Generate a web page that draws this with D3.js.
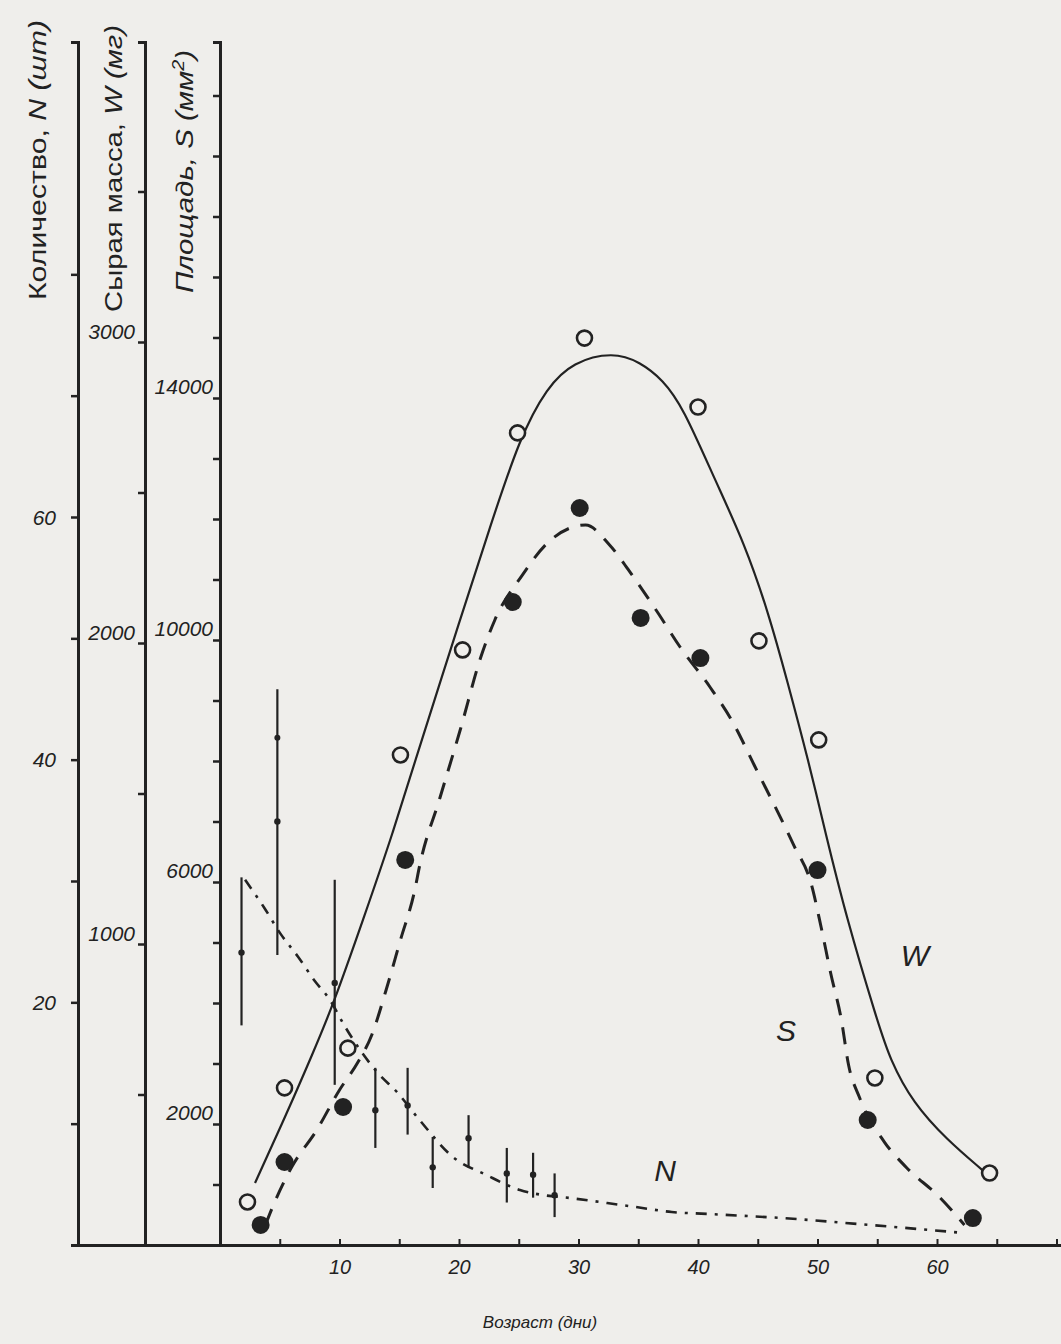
<!DOCTYPE html>
<html><head><meta charset="utf-8">
<script src="https://cdn.jsdelivr.net/npm/d3@7"></script>
<style>body{margin:0;background:#efeeeb}svg{display:block}text{font-family:"Liberation Sans",Arial,sans-serif;fill:#222}</style>
</head><body>
<svg id="chart" width="1061" height="1344"></svg>
<script>
// ---------- data ----------
// W: fresh mass (mg), open circles, solid line
const wDays   = [2.3, 5.4, 10.7, 15.1, 20.3, 24.9, 30.5, 40.0, 45.1, 50.1, 54.8, 64.4];
const wValues = [143, 522, 654, 1628, 1977, 2698, 3013, 2784, 2007, 1678, 555, 239];
const wCurveDays   = [2.93,5.61,7.78,9.46,11.97,14.48,16.74,20.08,22.59,25.10,27.36,29.54,32.89,35.15,37.07,38.74,41.42,43.9,45.9,47.45,49.3,50.6,52.47,54.98,56.07,57.99,60.84,63.8];
const wCurveValues = [206,439,638,797,1080,1369,1661,2076,2385,2684,2850,2934,2967,2934,2874,2784,2542,2330,2100,1877,1600,1380,1080,748,615,472,349,249];
// S: area (mm2), filled circles, dashed line
const sDays   = [3.4, 5.4, 10.3, 15.5, 24.5, 30.1, 35.2, 40.2, 50.0, 54.2, 63.0];
const sValues = [331, 1372, 2281, 6364, 10628, 12182, 10364, 9702, 6198, 2066, 446];
const sCurveDays   = [3.8,4.4,6.0,8.1,10.0,11.5,12.7,13.9,15.1,16.3,16.7,18.4,20.1,21.8,23.0,25.3,27.4,30.6,32.6,34.6,36.6,38.5,41.0,42.9,44.7,48.0,49.5,50.3,51.1,52.0,52.6,53.5,55.6,57.4,60.2,62.3];
const sCurveValues = [331,628,1289,1901,2562,3008,3471,4215,5041,5868,6264,7388,8512,9702,10331,11074,11603,11901,11570,11041,10463,9884,9223,8645,7934,6612,5950,5256,4496,3719,2975,2446,1702,1289,793,331];
// N: number (pcs), means with error bars, dash-dot line
const nDays  = [1.8, 4.8, 9.6, 13.0, 15.7, 17.8, 20.8, 24.0, 26.2, 28.0];
const nMeans = [24.1, 34.9, 21.6, 11.1, 11.5, 6.4, 8.8, 5.9, 5.8, 4.1];
const nLow   = [18.1, 23.9, 13.2, 8.0, 9.1, 4.7, 6.4, 3.5, 3.9, 2.3];
const nHigh  = [30.3, 45.8, 30.1, 14.6, 14.6, 8.9, 10.7, 8.0, 7.6, 5.9];
const nExtraDays = [4.8];
const nExtraValues = [41.8];
const nCurveDays   = [2.1,3.7,5.1,6.5,7.9,9.2,10.4,13.1,14.9,16.7,19.5,22.3,25.1,27.0,29.3,32.4,34.8,37.8,40.8,46.9,54.4,62.3];
const nCurveValues = [30.1,27.8,25.6,23.8,21.8,20.2,18.1,14.3,12.5,10.3,7.25,5.77,4.53,4.12,3.87,3.46,3.13,2.72,2.56,2.23,1.65,0.99];
// ticks and labels
const xTickValues = [5,10,15,20,25,30,35,40,45,50,55,60,65,70];
const xTickLabels = [10,20,30,40,50,60];
const nTickValues = [10,20,30,40,50,60,70,80];
const nTickLabels = [20,40,60];
const wTickValues = [500,1000,1500,2000,2500,3000,3500];
const wTickLabels = [1000,2000,3000];
const sTickValues = d3.range(1000, 20000, 1000);
const sTickLabels = [2000,6000,10000,14000];

// ---------- drawing ----------
const svg = d3.select('#chart');
const ink = '#222';
const BASE = 1245, TOP = 42;

const x  = d3.scaleLinear().domain([0,60]).range([220,937]);
const yN = d3.scaleLinear().domain([0,60]).range([BASE,517]);
const yW = d3.scaleLinear().domain([0,3000]).range([BASE,342]);
const yS = d3.scaleLinear().domain([0,14000]).range([BASE,398]);
const full = s => s.copy().domain([s.invert(BASE), s.invert(TOP)]).range([BASE, TOP]);

function yAxis(scale, xPos, ticks, labels, labelDx, labelDy) {
  const g = svg.append('g').attr('transform', `translate(${xPos},0)`)
    .call(d3.axisLeft(full(scale)).tickValues(ticks).tickSize(7).tickSizeOuter(7).tickFormat(''));
  g.select('.domain').attr('stroke', ink).attr('stroke-width', 3);
  g.selectAll('.tick line').attr('stroke', ink).attr('stroke-width', 2.5);
  g.selectAll('text.lbl').data(labels).join('text').attr('class','lbl')
    .attr('x', labelDx).attr('y', d => scale(d) + labelDy)
    .attr('text-anchor','end').attr('dominant-baseline','central')
    .attr('font-size', 21).attr('font-style','italic').text(d => d);
}
yAxis(yN, 78, nTickValues, nTickLabels, -22, 0);
yAxis(yW, 145, wTickValues, wTickLabels, -10, -11);
yAxis(yS, 220, sTickValues, sTickLabels, -7, -12);

// x axis
const xFull = x.copy().domain([x.invert(78), x.invert(1061)]).range([78,1061]);
const gx = svg.append('g').attr('transform', `translate(0,${BASE})`)
  .call(d3.axisBottom(xFull).tickValues(xTickValues).tickSizeInner(-6).tickSizeOuter(0).tickPadding(15)
    .tickFormat(d => xTickLabels.includes(d) ? d : ''));
gx.select('.domain').attr('stroke', ink).attr('stroke-width', 3);
gx.selectAll('.tick line').attr('stroke', ink).attr('stroke-width', 2);
gx.selectAll('.tick text').attr('font-size', 20).attr('font-style','italic')
  .attr('font-family','"Liberation Sans",Arial,sans-serif').attr('fill', ink);

svg.append('text').attr('x', 540).attr('y', 1328).attr('text-anchor','middle')
  .attr('font-size', 17).attr('font-style','italic').text('Возраст (дни)');

// rotated axis titles
function vTitle(xPos, yBottom, len, parts) {
  const t = svg.append('text').attr('transform', `translate(${xPos},${yBottom}) rotate(-90)`)
    .attr('font-size', 24).attr('textLength', len).attr('lengthAdjust','spacingAndGlyphs');
  parts.forEach(p => {
    const ts = t.append('tspan').text(p.t);
    if (p.i) ts.attr('font-style','italic');
    if (p.dy) ts.attr('dy', p.dy);
    if (p.fs) ts.attr('font-size', p.fs);
  });
}
vTitle(46, 300, 280, [{t:'Количество, '},{t:'N (шт)', i:true}]);
vTitle(122, 312, 287, [{t:'Сырая масса, '},{t:'W (мг)', i:true}]);
vTitle(193, 293, 243, [{t:'Площадь, S (мм', i:true},{t:'2', i:true, dy:-9, fs:16},{t:')', i:true, dy:9}]);

// curves
const lineW = d3.line().x(d => x(d[0])).y(d => yW(d[1])).curve(d3.curveBasis);
const lineS = d3.line().x(d => x(d[0])).y(d => yS(d[1])).curve(d3.curveMonotoneX);
const lineN = d3.line().x(d => x(d[0])).y(d => yN(d[1])).curve(d3.curveMonotoneX);

svg.append('path').datum(d3.zip(wCurveDays, wCurveValues)).attr('d', lineW)
  .attr('fill','none').attr('stroke', ink).attr('stroke-width', 2.2);
svg.append('path').datum(d3.zip(sCurveDays, sCurveValues)).attr('d', lineS)
  .attr('fill','none').attr('stroke', ink).attr('stroke-width', 3).attr('stroke-dasharray','17,12');
svg.append('path').datum(d3.zip(nCurveDays, nCurveValues)).attr('d', lineN)
  .attr('fill','none').attr('stroke', ink).attr('stroke-width', 2.6).attr('stroke-dasharray','11,8,3,8');

// N error bars
const nData = nDays.map((d,i) => ({d, m:nMeans[i], lo:nLow[i], hi:nHigh[i]}));
svg.append('g').selectAll('line').data(nData).join('line')
  .attr('x1', p => x(p.d)).attr('x2', p => x(p.d))
  .attr('y1', p => yN(p.lo)).attr('y2', p => yN(p.hi))
  .attr('stroke', ink).attr('stroke-width', 2.2);
svg.append('g').selectAll('circle').data(nData).join('circle')
  .attr('cx', p => x(p.d)).attr('cy', p => yN(p.m)).attr('r', 3.2).attr('fill', ink);
svg.append('g').selectAll('circle').data(d3.zip(nExtraDays, nExtraValues)).join('circle')
  .attr('cx', p => x(p[0])).attr('cy', p => yN(p[1])).attr('r', 3).attr('fill', ink);

// W open circles
svg.append('g').selectAll('circle').data(d3.zip(wDays, wValues)).join('circle')
  .attr('cx', p => x(p[0])).attr('cy', p => yW(p[1])).attr('r', 7.5)
  .attr('fill', '#efeeeb').attr('stroke', ink).attr('stroke-width', 2.6);
// S filled circles
svg.append('g').selectAll('circle').data(d3.zip(sDays, sValues)).join('circle')
  .attr('cx', p => x(p[0])).attr('cy', p => yS(p[1])).attr('r', 9).attr('fill', ink);

// series labels
[['W', 915, 955], ['S', 786, 1030], ['N', 665, 1170]].forEach(([t, lx, ly]) =>
  svg.append('text').attr('x', lx).attr('y', ly).attr('text-anchor','middle').attr('dominant-baseline','central')
    .attr('font-size', 30).attr('font-style','italic').text(t));
</script>
</body></html>
